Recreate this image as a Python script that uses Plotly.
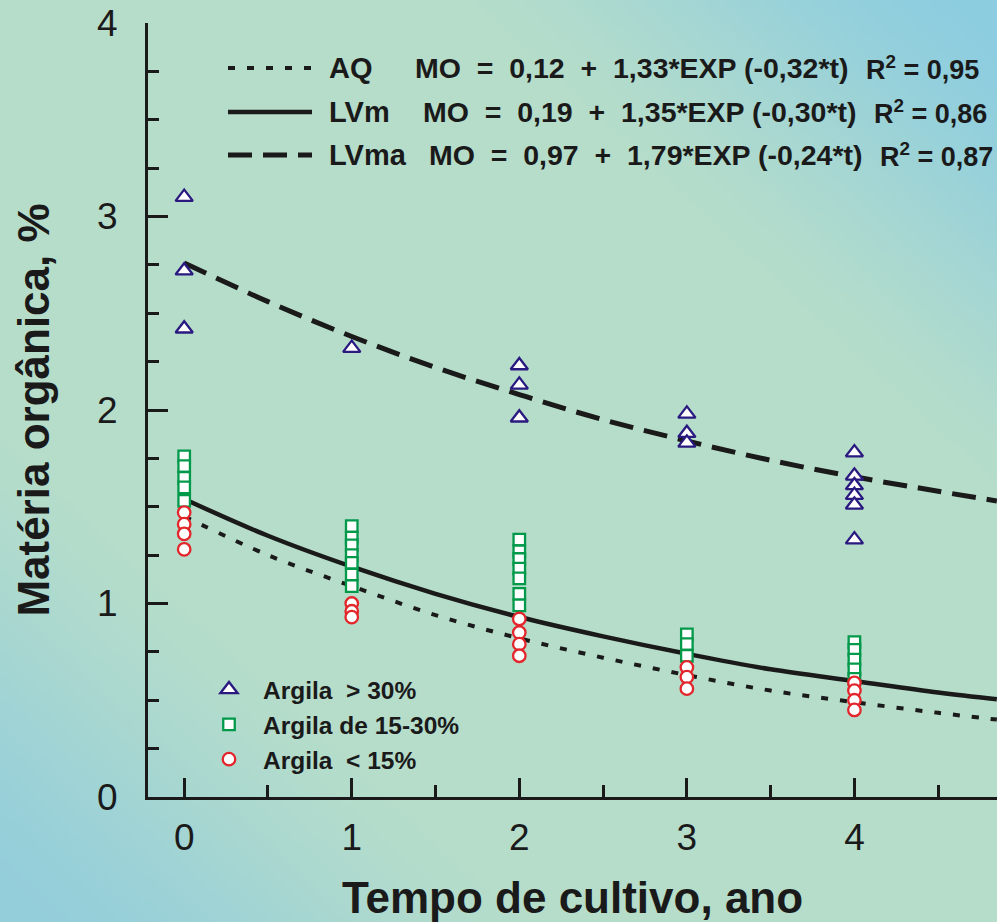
import zlib, struct, base64
import plotly.graph_objects as go

# ---------------- data ----------------
x_tri = [0, 0, 0, 1, 2, 2, 2, 3, 3, 3, 4, 4, 4, 4, 4, 4]
y_tri = [3.10, 2.72, 2.42, 2.32, 2.23, 2.13, 1.96, 1.98, 1.88, 1.83,
         1.78, 1.66, 1.61, 1.56, 1.51, 1.33]

x_sq = [0, 0, 0, 0, 0,
        1, 1, 1, 1, 1, 1, 1,
        2, 2, 2, 2, 2, 2, 2,
        3, 3, 3,
        4, 4, 4, 4, 4]
y_sq = [1.76, 1.71, 1.65, 1.60, 1.53,
        1.40, 1.34, 1.30, 1.25, 1.21, 1.15, 1.09,
        1.33, 1.27, 1.23, 1.18, 1.13, 1.05, 0.99,
        0.84, 0.79, 0.73,
        0.80, 0.76, 0.71, 0.66, 0.61]

x_ci = [0, 0, 0, 0, 1, 1, 1, 2, 2, 2, 2, 3, 3, 3, 4, 4, 4, 4]
y_ci = [1.47, 1.41, 1.36, 1.28, 1.00, 0.96, 0.93, 0.92, 0.85, 0.79, 0.73,
        0.67, 0.62, 0.56, 0.59, 0.55, 0.50, 0.45]

# fitted curves
t_curve = [0, 0.5, 1, 1.5, 2, 2.5, 3, 3.5, 4, 4.5, 4.85]
mo_aq = [1.45, 1.25, 1.09, 0.94, 0.82, 0.72, 0.63, 0.55, 0.49, 0.435, 0.40]
mo_lvm = [1.54, 1.35, 1.19, 1.05, 0.93, 0.83, 0.74, 0.66, 0.60, 0.54, 0.505]
mo_lvma = [2.76, 2.56, 2.38, 2.22, 2.08, 1.95, 1.84, 1.74, 1.655, 1.58, 1.53]

NB = "\u00a0"
curve_names = ["AQ", "LVm", "LVma"]
curve_eqs = ["MO" + NB + " = " + NB + "0,12" + NB + " + " + NB + "1,33*EXP (-0,32*t)",
             "MO" + NB + " = " + NB + "0,19" + NB + " + " + NB + "1,35*EXP (-0,30*t)",
             "MO" + NB + " = " + NB + "0,97" + NB + " + " + NB + "1,79*EXP (-0,24*t)"]
curve_r2 = ["0,95", "0,86", "0,87"]
marker_names = ["Argila" + NB + " >" + NB + "30%", "Argila de 15-30%", "Argila" + NB + " <" + NB + "15%"]

# ---------------- background gradient image ----------------
def make_png(w, h, fn):
    raw = bytearray()
    for j in range(h):
        raw.append(0)
        for i in range(w):
            raw.extend(fn(i, j))
    def chunk(tag, data):
        c = struct.pack('>I', len(data)) + tag + data
        return c + struct.pack('>I', zlib.crc32(tag + data) & 0xffffffff)
    png = (b'\x89PNG\r\n\x1a\n'
           + chunk(b'IHDR', struct.pack('>IIBBBBB', w, h, 8, 2, 0, 0, 0))
           + chunk(b'IDAT', zlib.compress(bytes(raw), 9))
           + chunk(b'IEND', b''))
    return 'data:image/png;base64,' + base64.b64encode(png).decode()

GW, GH = 200, 185
MINT = (182, 221, 202)
BLUE_TR = (141, 205, 224)
BLUE_BL = (148, 206, 219)

def grad(i, j):
    u = i / (GW - 1)
    v = j / (GH - 1)
    d = u - v
    s = (abs(d) - 0.42) / 0.58
    s = max(0.0, min(1.0, s))
    s = s * s * (3 - 2 * s)
    b = BLUE_TR if d > 0 else BLUE_BL
    return bytes(int(round(MINT[k] * (1 - s) + b[k] * s)) for k in range(3))

bg_uri = make_png(GW, GH, grad)

# ---------------- figure ----------------
W, H = 997, 922
L, R, T, B = 148, 0, 23, 125
PW, PH = W - L - R, H - T - B

fig = go.Figure()

fig.add_trace(go.Scatter(x=t_curve, y=mo_aq, mode="lines", line_shape="spline",
                         line=dict(color="#1a1a1a", width=4, dash="7px,12px"),
                         showlegend=False, hoverinfo="skip"))
fig.add_trace(go.Scatter(x=t_curve, y=mo_lvm, mode="lines", line_shape="spline",
                         line=dict(color="#1a1a1a", width=4.5),
                         showlegend=False, hoverinfo="skip"))
fig.add_trace(go.Scatter(x=t_curve, y=mo_lvma, mode="lines", line_shape="spline",
                         line=dict(color="#1a1a1a", width=5, dash="24px,11px"),
                         showlegend=False, hoverinfo="skip"))

fig.add_trace(go.Scatter(x=x_tri, y=y_tri, mode="markers", name=marker_names[0],
                         legendgroup="a",
                         marker=dict(symbol="triangle-up", size=15, color="white",
                                     line=dict(color="#2a1a80", width=2.3))))
fig.add_trace(go.Scatter(x=x_sq, y=y_sq, mode="markers", name=marker_names[1],
                         legendgroup="b",
                         marker=dict(symbol="square", size=11.5, color="white",
                                     line=dict(color="#00994a", width=2.3))))
fig.add_trace(go.Scatter(x=x_ci, y=y_ci, mode="markers", name=marker_names[2],
                         legendgroup="c",
                         marker=dict(symbol="circle", size=12.5, color="white",
                                     line=dict(color="#e3262b", width=2.3))))

def px_x(p):
    return (p - L) / PW

def px_y(p):
    return (H - B - p) / PH

FONT = "Liberation Sans, Arial, sans-serif"
# manual line legend
row_y = [68, 112, 155]
dashes = ["7px,12px", "solid", "24px,11px"]
widths = [4, 4.5, 5]
eq_x = [413, 421, 427]
r_x = [864, 872, 878]
for k in range(3):
    fig.add_shape(type="line", xref="paper", yref="paper",
                  x0=px_x(228), x1=px_x(312), y0=px_y(row_y[k]), y1=px_y(row_y[k]),
                  line=dict(color="#1a1a1a", width=widths[k], dash=dashes[k]))
    fig.add_annotation(xref="paper", yref="paper", x=px_x(327), y=px_y(row_y[k]),
                       xanchor="left", yanchor="middle", showarrow=False,
                       text=curve_names[k],
                       font=dict(family=FONT, size=29, color="#1a1a1a", weight="bold"))
    fig.add_annotation(xref="paper", yref="paper", x=px_x(eq_x[k]), y=px_y(row_y[k]),
                       xanchor="left", yanchor="middle", showarrow=False,
                       text=curve_eqs[k],
                       font=dict(family=FONT, size=28.5, color="#1a1a1a", weight="bold"))
    fig.add_annotation(xref="paper", yref="paper", x=px_x(r_x[k]), y=px_y(row_y[k]),
                       xanchor="left", yanchor="middle", showarrow=False,
                       text="R<sup>2</sup> = " + curve_r2[k],
                       font=dict(family=FONT, size=27, color="#1a1a1a", weight="bold"))

fig.add_layout_image(dict(source=bg_uri, xref="paper", yref="paper",
                          x=-L / PW, y=1 + T / PH, sizex=W / PW, sizey=H / PH,
                          xanchor="left", yanchor="top", sizing="stretch",
                          layer="below"))

tickfont = dict(family=FONT, size=37, color="#1a1a1a")
titlefont = dict(family=FONT, size=44, color="#1a1a1a", weight="bold")

fig.update_layout(
    width=W, height=H,
    margin=dict(l=L, r=R, t=T, b=B, autoexpand=False),
    paper_bgcolor="rgba(0,0,0,0)",
    plot_bgcolor="rgba(0,0,0,0)",
    showlegend=True,
    legend=dict(x=px_x(195), y=px_y(667), xanchor="left", yanchor="top",
                bgcolor="rgba(0,0,0,0)", itemwidth=58, tracegroupgap=0,
                font=dict(family=FONT, size=24.5, color="#1a1a1a", weight="bold")),
    xaxis=dict(range=[-0.216, 4.851], showgrid=False, zeroline=False,
               showline=True, linecolor="#1a1a1a", linewidth=3,
               ticks="inside", ticklen=19, tickwidth=3, tickcolor="#1a1a1a",
               tickmode="array", tickvals=[0, 1, 2, 3, 4],
               ticklabelstandoff=6,
               minor=dict(tickmode="array", tickvals=[0.5, 1.5, 2.5, 3.5, 4.5],
                          ticks="inside", ticklen=12, tickwidth=3, tickcolor="#1a1a1a"),
               tickfont=tickfont,
               title=dict(text="Tempo de cultivo, ano", font=titlefont, standoff=30)),
    yaxis=dict(range=[0, 4], showgrid=False, zeroline=False,
               showline=True, linecolor="#1a1a1a", linewidth=3,
               ticks="inside", ticklen=20, tickwidth=3, tickcolor="#1a1a1a",
               tickmode="array", tickvals=[0, 1, 2, 3, 4],
               ticklabelstandoff=20,
               minor=dict(dtick=0.25, ticks="inside", ticklen=11, tickwidth=3,
                          tickcolor="#1a1a1a"),
               tickfont=tickfont,
               title=dict(text="Matéria orgânica, %", font=titlefont, standoff=34)),
)

fig.write_html("out.html", config={"displayModeBar": False},
               post_script="document.body.style.margin='0';")
